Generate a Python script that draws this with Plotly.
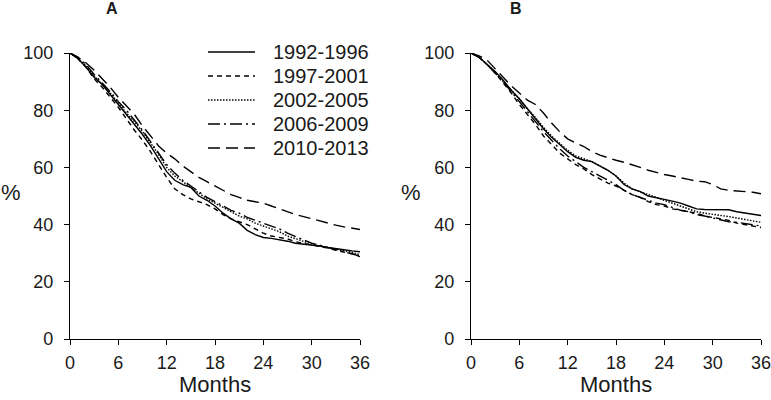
import plotly.graph_objects as go

months = list(range(0, 37))
periods = ["1992-1996", "1997-2001", "2002-2005", "2006-2009", "2010-2013"]
dashes = ["solid", "5px,4px", "1.5px,1.5px", "12px,4px,2px,4px", "12px,6px"]

a_1992 = [100, 98, 95, 91.5, 89, 85.5, 82, 78.5, 75, 71.5, 67.5, 63, 58.5, 55.5, 54, 53, 50, 48.5, 46.5, 44, 42,
          40.5, 38, 36.5, 35.5, 35.2, 34.8, 34.2, 33.5, 33.2, 33, 32.5, 32, 31.5, 31.2, 30.8, 30.5]
a_1997 = [100, 98, 95, 91, 88, 84.5, 81, 77, 73, 69.5, 65.5, 61, 56.5, 52.5, 50.5, 49, 48, 47, 45.5, 43.5, 42,
          41, 40, 38.5, 37, 36, 35.5, 35, 34, 33.5, 33, 32.5, 31.8, 31, 30.5, 29.8, 28.8]
a_2002 = [100, 98, 95.5, 92, 89, 86, 82.5, 79, 76, 72.5, 68.5, 64.5, 60, 57, 55, 53, 51, 49, 47.5, 46, 44.5,
          43, 42, 40.5, 39.5, 38.5, 37.5, 36, 35, 34, 33.2, 32.5, 32, 31.5, 31, 30.3, 29.5]
a_2006 = [100, 98.5, 96, 92.5, 89.5, 86.5, 83, 80, 76.5, 73, 69, 65, 61, 58, 55.5, 53.5, 51.5, 49.5, 48, 46.5, 45,
          44, 42.5, 41.5, 40.5, 39.5, 38.5, 37, 35.8, 34.5, 33.5, 32.8, 32, 31.3, 30.5, 29.8, 29]
a_2010 = [100, 98.5, 96.5, 94, 91, 88, 84.5, 81.5, 78.5, 74.5, 71, 67.5, 65, 63, 60.5, 58.5, 56.5, 55, 53.5, 52, 50.5,
          49.5, 48.5, 48, 47.5, 46.5, 45.5, 44.5, 43.5, 42.8, 42, 41.2, 40.5, 39.8, 39.2, 38.8, 38.3]

b_1992 = [100, 98.5, 96, 93.5, 90.5, 87, 84, 80.5, 77, 73.5, 70.5, 68, 65.5, 63.5, 62.5, 62, 60.5, 59, 57, 54, 52.5,
          51.5, 50, 49.5, 48.8, 48.2, 47.5, 46.5, 45.5, 45.3, 45.3, 45.3, 45.2, 44.5, 44, 43.6, 43.2]
b_1997 = [100, 98.5, 96, 93, 89.5, 86, 82, 78.5, 75, 71, 68, 65, 63, 61, 59.5, 57.5, 56, 54.5, 53.5, 52, 50.5,
          49.5, 48, 47, 46.5, 45.5, 45, 44.5, 44, 43, 42.5, 42, 41.5, 40.5, 40, 39.6, 39]
b_2002 = [100, 98.5, 96, 93, 90, 87, 84, 80.5, 77.5, 74, 71, 68.5, 66, 64, 63, 62, 60.5, 59, 57, 54.5, 52.5,
          51.5, 50.5, 49.5, 48.5, 47.5, 46.5, 45.5, 44.5, 44, 43.5, 43.2, 42.8, 42.2, 41.8, 41.3, 40.8]
b_2006 = [100, 98.5, 96, 93, 90, 86.5, 83, 79.5, 76, 72.5, 69.5, 66.5, 64, 62, 60, 58.5, 57, 55.5, 54, 52, 50.5,
          49.5, 48.5, 47.5, 47, 46, 45, 44.5, 43.5, 43, 42.3, 41.5, 41, 40.8, 40.3, 40, 39.5]
b_2010 = [100, 99, 97.5, 94.5, 91.5, 88.5, 86, 83.5, 82, 79, 75.5, 72.5, 70, 68.5, 67.3, 65.5, 64.3, 63.3, 62.5, 61.8, 61,
          60, 59, 58.2, 57.5, 57, 56.5, 55.8, 55.2, 55, 54, 52.5, 52, 51.8, 51.5, 51.3, 50.8]

panel_a = [a_1992, a_1997, a_2002, a_2006, a_2010]
panel_b = [b_1992, b_1997, b_2002, b_2006, b_2010]
x_ticks = [0, 6, 12, 18, 24, 30, 36]
y_ticks = [0, 20, 40, 60, 80, 100]

W, H = 771, 400
FONT = "Arial, Liberation Sans, sans-serif"
TXT = "#1a1a1a"
fig = go.Figure()
for name, dash, ya, yb in zip(periods, dashes, panel_a, panel_b):
    fig.add_trace(go.Scatter(x=months, y=ya, mode="lines", name=name,
                             line=dict(color="black", width=1.4, dash=dash),
                             xaxis="x", yaxis="y", showlegend=False))
    fig.add_trace(go.Scatter(x=months, y=yb, mode="lines", name=name,
                             line=dict(color="black", width=1.4, dash=dash),
                             xaxis="x2", yaxis="y2", showlegend=False))

ax_common = dict(showline=True, linecolor="black", linewidth=1.4, ticks="outside",
                 ticklen=5, tickcolor="black", tickwidth=1.4, showgrid=False, zeroline=False,
                 automargin=False, fixedrange=True, ticklabeloverflow="allow",
                 tickfont=dict(family=FONT, size=18, color=TXT))
xa = dict(range=[0, 36], tickvals=x_ticks, ticklabelstandoff=2, **ax_common)
ya_ = dict(domain=[61/H, 347/H], range=[0, 100], tickvals=y_ticks, ticklabelstandoff=7, **ax_common)
fig.update_layout(
    width=W, height=H,
    margin=dict(l=0, r=0, t=0, b=0, autoexpand=False),
    paper_bgcolor="white", plot_bgcolor="white",
    xaxis=dict(domain=[70/W, 360/W], anchor="y", **xa),
    yaxis=dict(anchor="x", **ya_),
    xaxis2=dict(domain=[471/W, 761/W], anchor="y2", **xa),
    yaxis2=dict(anchor="x2", **ya_),
    showlegend=False,
)

# manual legend (panel A)
legend_rows = [52, 76, 100, 124, 148]
for name, dash, ry in zip(periods, dashes, legend_rows):
    fig.add_shape(type="line", xref="paper", yref="paper", x0=208/W, x1=255/W,
                  y0=1 - ry/H, y1=1 - ry/H, line=dict(color="black", width=1.4, dash=dash))
    fig.add_annotation(text=name, x=271/W, y=1 - ry/H, xref="paper", yref="paper",
                       showarrow=False, xanchor="left", yanchor="middle",
                       font=dict(family=FONT, size=20, color=TXT))

annots = [
    dict(text="<b>A</b>", x=112, y=9),
    dict(text="<b>B</b>", x=516, y=9),
    dict(text="%", x=11, y=193),
    dict(text="%", x=411, y=193),
    dict(text="Months", x=215, y=384),
    dict(text="Months", x=616, y=384),
]
sizes = [16, 16, 22, 22, 22, 22]
for a, s in zip(annots, sizes):
    fig.add_annotation(text=a["text"], x=a["x"]/W, y=1 - a["y"]/H, xref="paper", yref="paper",
                       showarrow=False, xanchor="center", yanchor="middle",
                       font=dict(family=FONT, size=s, color=TXT))

fig.write_html("out.html", config={"displayModeBar": False},
               post_script="document.body.style.margin='0';document.body.style.padding='0';")
